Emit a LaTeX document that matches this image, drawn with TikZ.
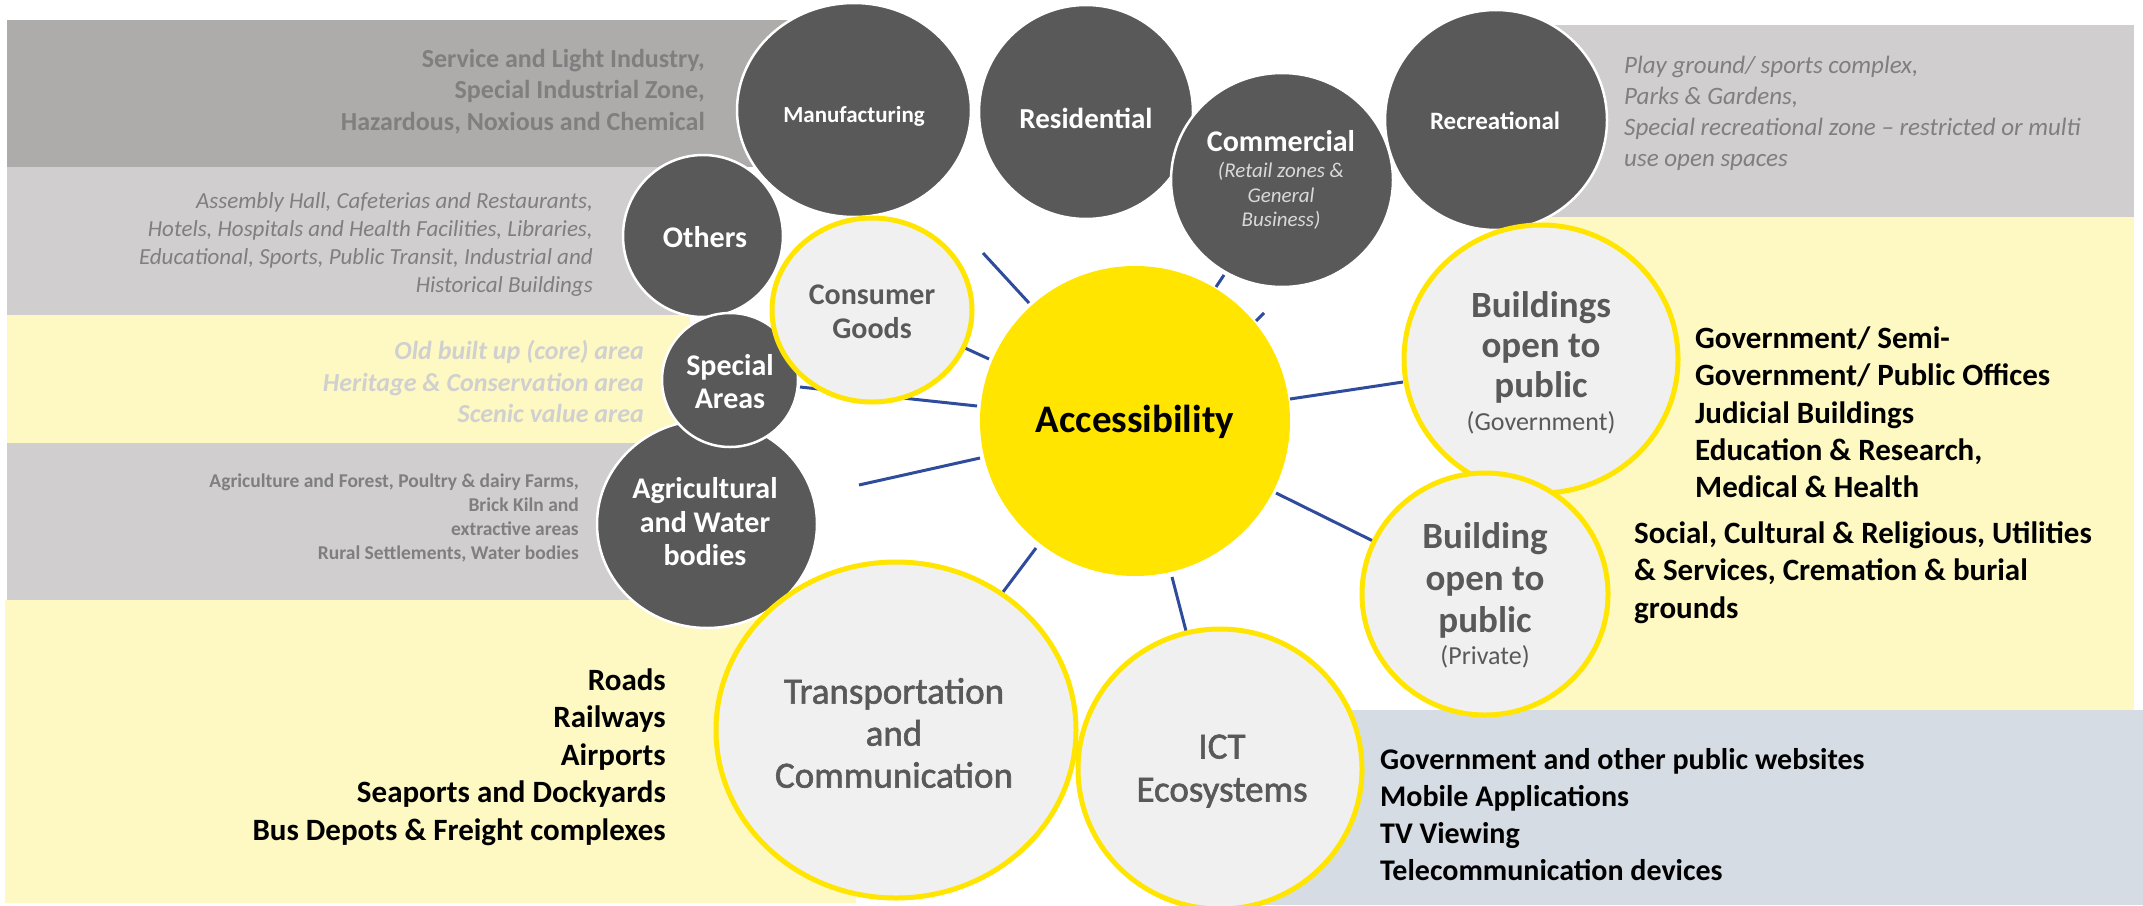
\documentclass[tikz,border=0pt]{standalone}
\usepackage{fontspec}
\setmainfont{Carlito}
\newfontfamily\semibold[FakeBold=1.6]{Carlito}
\usetikzlibrary{shapes.geometric}
\definecolor{darkc}{HTML}{595959}
\definecolor{bandA}{HTML}{AEABAB}
\definecolor{bandB}{HTML}{D0CECE}
\definecolor{bandY}{HTML}{FEF8C3}
\definecolor{bandBlue}{HTML}{D6DCE4}
\definecolor{ylw}{HTML}{FFE500}
\definecolor{lightc}{HTML}{F0F0F0}
\definecolor{connc}{HTML}{2F4B9B}
\definecolor{txtgray}{HTML}{7F7F7F}
\definecolor{txtlight}{HTML}{D0D0D0}
\definecolor{subgray}{HTML}{D9D9D9}
\newcommand{\myfs}[2]{\fontsize{#1}{#2}\selectfont}
\tikzset{
  dball/.style={ellipse, fill=darkc, draw=white, line width=2.5pt, inner sep=0pt},
  lball/.style={ellipse, fill=lightc, draw=ylw, line width=5pt, inner sep=0pt},
  conline/.style={draw=connc, line width=3pt},
  wlab/.style={text=white, align=center, inner sep=0pt},
  glab/.style={text=darkc, align=center, inner sep=0pt},
  rdesc/.style={align=right, anchor=east, inner sep=0pt},
  ldesc/.style={align=left, anchor=west, inner sep=0pt},
}
\begin{document}
\begin{tikzpicture}[x=1pt,y=-1pt]
\useasboundingbox (0,0) rectangle (2143,905);
% background bands
\fill[bandA] (7,20) rectangle (790,167);
\fill[bandB] (7,167) rectangle (690,315);
\fill[bandY] (7,315) rectangle (690,443);
\fill[bandB] (7,443) rectangle (640,600);
\fill[bandY] (5,600) rectangle (856,903);
\fill[bandB] (1500,25) rectangle (2134,217);
\fill[bandY] (1520,217) rectangle (2134,710);
\fill[bandBlue] (1250,710) rectangle (2143,905);
% connector end points
\coordinate (c1a) at (983,253);  \coordinate (c1b) at (1029,303);
\coordinate (c2a) at (965,348);  \coordinate (c2b) at (989,359);
\coordinate (c3a) at (800,387);  \coordinate (c3b) at (977,406);
\coordinate (c4a) at (859,485);  \coordinate (c4b) at (980,458);
\coordinate (c5a) at (1003,592); \coordinate (c5b) at (1036,548);
\coordinate (c6a) at (1172,577); \coordinate (c6b) at (1186,631);
\coordinate (c7a) at (1276,493); \coordinate (c7b) at (1373,541);
\coordinate (c8a) at (1290,399); \coordinate (c8b) at (1403,382);
\coordinate (c9a) at (1224,275); \coordinate (c9b) at (1216,287);
\coordinate (c10a) at (1264,313); \coordinate (c10b) at (1256,321);
\foreach \i in {1,...,10} {\draw[conline] (c\i a) -- (c\i b);}
% dark circles
\node[dball, minimum width=234pt, minimum height=214pt] (manu) at (854,110) {};
\node[dball, minimum width=214pt, minimum height=214pt] (resi) at (1086,112) {};
\node[dball, minimum width=222pt, minimum height=214pt] (comm) at (1282,180) {};
\node[dball, minimum width=222pt, minimum height=220pt] (recr) at (1496,120) {};
\node[dball, minimum width=160pt, minimum height=162pt] (oth) at (703,236) {};
\node[dball, minimum width=220pt, minimum height=208pt] (agri) at (707,524) {};
\node[dball, minimum width=136pt, minimum height=134pt] (spec) at (730,380) {};
% light circles
\node[lball, minimum width=200pt, minimum height=184pt] (cons) at (872,310) {};
\node[ellipse, fill=ylw, inner sep=0pt, minimum width=310pt, minimum height=310pt] (acc) at (1135,421) {};
\node[lball, minimum width=274pt, minimum height=268pt] (gov) at (1541,359) {};
\node[lball, minimum width=246pt, minimum height=242pt] (priv) at (1485,594) {};
\node[lball, minimum width=360pt, minimum height=336pt] (trans) at (896,730) {};
\node[lball, minimum width=284pt, minimum height=280pt] (ict) at (1220,769) {};
% circle labels
\node[wlab, font=\bfseries\myfs{23}{26}] (manu-t) at (854,116) {Manufacturing};
\node[wlab, font=\bfseries\myfs{29}{32}] (resi-t) at (1086,118) {Residential};
\node[wlab, font=\bfseries\myfs{30}{33}] (comm-t) at (1281,141) {Commercial};
\node[wlab, text=subgray, font=\itshape\myfs{21}{24.5}] (comm-s) at (1281,196) {(Retail zones \&\\General\\Business)};
\node[wlab, font=\bfseries\myfs{25}{28}] (recr-t) at (1495,121) {Recreational};
\node[wlab, font=\bfseries\myfs{30}{33}] (oth-t) at (705,237) {Others};
\node[wlab, font=\bfseries\myfs{30}{33}] (spec-t) at (730,381.5) {Special\\Areas};
\node[wlab, font=\bfseries\myfs{30}{33.5}] (agri-t) at (705,522) {Agricultural\\and Water\\bodies};
\node[glab, font=\bfseries\myfs{30}{34}] (cons-t) at (872,312) {Consumer\\Goods};
\node[inner sep=0pt, font=\bfseries\myfs{39}{44}] (acc-t) at (1135,422) {Accessibility};
\node[glab, font=\bfseries\myfs{37}{40}] (gov-t) at (1541,347) {Buildings\\open to\\public};
\node[glab, font=\myfs{26}{30}] (gov-s) at (1541,423) {(Government)};
\node[glab, font=\bfseries\myfs{37}{42}] (priv-t) at (1485,580) {Building\\open to\\public};
\node[glab, font=\myfs{26}{30}] (priv-s) at (1485,657) {(Private)};
\node[glab, font=\semibold\myfs{37}{42}] (trans-t) at (894,733) {Transportation\\and\\Communication};
\node[glab, font=\semibold\myfs{37}{43}] (ict-t) at (1222,771) {ICT\\Ecosystems};
% descriptions
\node[rdesc, text=txtgray, font=\bfseries\myfs{26}{31.5}] (d-manu) at (705,91.5) {Service and Light Industry,\\Special Industrial Zone,\\Hazardous, Noxious and Chemical};
\node[rdesc, text=txtgray, font=\itshape\myfs{23}{28}] (d-oth) at (593,244) {Assembly Hall, Cafeterias and Restaurants,\\Hotels, Hospitals and Health Facilities, Libraries,\\Educational, Sports, Public Transit, Industrial and\\Historical Buildings};
\node[rdesc, text=txtlight, font=\bfseries\itshape\myfs{26}{31.5}] (d-spec) at (644,381.5) {Old built up (core) area\\Heritage \& Conservation area\\Scenic value area};
\node[rdesc, text=txtgray, font=\bfseries\myfs{19.5}{24}] (d-agri) at (579,518) {Agriculture and Forest, Poultry \& dairy Farms,\\Brick Kiln and\\extractive areas\\Rural Settlements, Water bodies};
\node[rdesc, font=\bfseries\myfs{31}{37.5}] (d-trans) at (666,757) {Roads\\Railways\\Airports\\Seaports and Dockyards\\Bus Depots \& Freight complexes};
\node[ldesc, text=txtgray, font=\itshape\myfs{25}{31}] (d-recr) at (1624,113.5) {Play ground/ sports complex,\\Parks \& Gardens,\\Special recreational zone – restricted or multi\\use open spaces};
\node[ldesc, font=\bfseries\myfs{31}{37.3}] (d-gov) at (1695,412.5) {Government/ Semi-\\Government/ Public Offices\\Judicial Buildings\\Education \& Research,\\Medical \& Health};
\node[ldesc, font=\bfseries\myfs{31}{37.5}] (d-priv) at (1634,572.5) {Social, Cultural \& Religious, Utilities\\\& Services, Cremation \& burial\\grounds};
\node[ldesc, font=\bfseries\myfs{30}{37}] (d-ict) at (1380,815) {Government and other public websites\\Mobile Applications\\TV Viewing\\Telecommunication devices};
\end{tikzpicture}
\end{document}
